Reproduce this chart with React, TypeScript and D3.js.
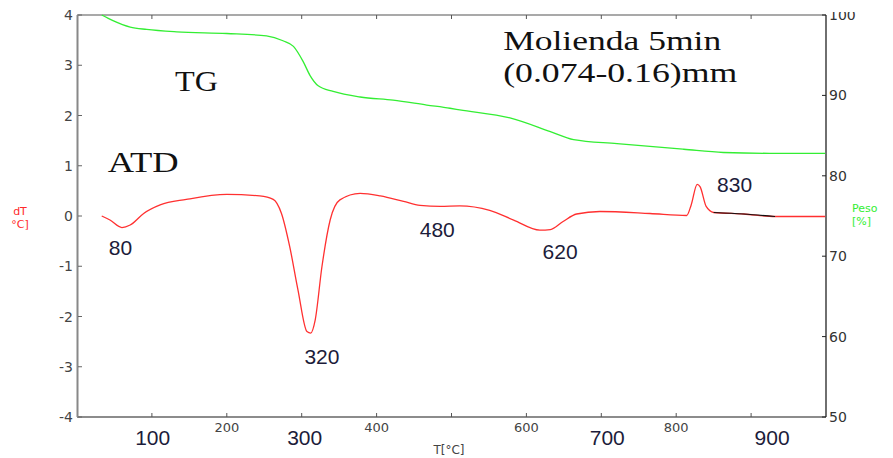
import React, { useEffect, useRef } from 'react';
import * as d3 from 'd3';

// TG curve (weight %, right axis)
const tgTemp = [33, 48, 71, 93, 133, 200, 253, 275, 289, 302, 311, 322, 342, 378, 422, 467, 498, 511, 578, 632, 663, 721, 810, 863, 925, 999];
const tgPeso = [100, 99.3, 98.5, 98.2, 97.9, 97.7, 97.4, 96.8, 96.1, 94.2, 92.5, 91.2, 90.5, 89.8, 89.4, 88.8, 88.4, 88.2, 87.2, 85.5, 84.5, 84.0, 83.3, 82.9, 82.8, 82.8];

// ATD curve (dT, left axis)
const atdTemp = [33, 44, 60, 71, 89, 111, 146, 200, 244, 262, 273, 284, 295, 307, 312, 318, 327, 338, 351, 378, 405, 436, 458, 485, 511, 551, 583, 618, 632, 649, 667, 698, 765, 814, 820, 828, 832, 840, 850, 890, 932, 999];
const atdDt = [0.0, -0.08, -0.23, -0.18, 0.05, 0.22, 0.33, 0.43, 0.40, 0.33, 0.05, -0.61, -1.47, -2.30, -2.33, -2.07, -1.01, -0.08, 0.32, 0.45, 0.40, 0.29, 0.21, 0.19, 0.20, 0.11, -0.08, -0.28, -0.27, -0.11, 0.04, 0.09, 0.05, 0.01, 0.22, 0.63, 0.58, 0.19, 0.07, 0.04, -0.01, -0.01];
const blackRange = [850, 932];

// axes
const xTicks = [100, 200, 300, 400, 500, 600, 700, 800, 900];
const xSmallLabels = [200, 400, 600, 800];
const bigLabels = ['100', '300', '700', '900'];
const bigLabelT = [101, 304, 708, 928];
const leftTicks = [-4, -3, -2, -1, 0, 1, 2, 3, 4];
const rightTicks = [50, 60, 70, 80, 90, 100];

// peak annotations
const peakLabels = ['80', '320', '480', '620', '830'];
const peakT = [58, 327, 481, 645, 878];
const peakDt = [-0.78, -2.95, -0.42, -0.86, 0.48];

const App = () => {
  const svgRef = useRef<SVGSVGElement>(null);

  useEffect(() => {
    const W = 893, H = 458;
    const svg = d3.select(svgRef.current);
    svg.selectAll('*').remove();

    const x = d3.scaleLinear().domain([0, 1000]).range([77, 826]);
    const yL = d3.scaleLinear().domain([-4, 4]).range([417, 15]);
    const yR = d3.scaleLinear().domain([50, 100]).range([417, 15]);

    svg.append('rect').attr('width', W).attr('height', H).attr('fill', '#fff');

    svg.append('defs').append('clipPath').attr('id', 'topclip')
      .append('rect').attr('x', 0).attr('y', 12).attr('width', W).attr('height', H);

    const numFont = 'DejaVu Sans, sans-serif';

    // frame
    svg.append('line').attr('x1', 77).attr('x2', 826).attr('y1', 15).attr('y2', 15)
      .attr('stroke', '#555').attr('stroke-width', 1.2);
    svg.append('line').attr('x1', 77).attr('x2', 826).attr('y1', 417).attr('y2', 417)
      .attr('stroke', '#666').attr('stroke-width', 1.6);
    svg.append('line').attr('x1', 77.5).attr('x2', 77.5).attr('y1', 15).attr('y2', 417)
      .attr('stroke', '#888').attr('stroke-width', 2);
    svg.append('line').attr('x1', 826).attr('x2', 826).attr('y1', 15).attr('y2', 417)
      .attr('stroke', '#222').attr('stroke-width', 1.3);

    // x ticks (top and bottom)
    xTicks.forEach(t => {
      svg.append('line').attr('x1', x(t)).attr('x2', x(t)).attr('y1', 417).attr('y2', 413)
        .attr('stroke', '#555');
      svg.append('line').attr('x1', x(t)).attr('x2', x(t)).attr('y1', 15).attr('y2', 19)
        .attr('stroke', '#555');
    });
    xSmallLabels.forEach(t => {
      svg.append('text').attr('x', x(t)).attr('y', 432).attr('text-anchor', 'middle')
        .attr('font-family', numFont).attr('font-size', 13).attr('fill', '#444')
        .text(String(t));
    });
    bigLabels.forEach((s, i) => {
      svg.append('text').attr('x', x(bigLabelT[i])).attr('y', 445).attr('text-anchor', 'middle')
        .attr('font-family', 'Liberation Sans, Arial, sans-serif').attr('font-size', 21)
        .attr('fill', '#1c1c3a').text(s);
    });
    svg.append('text').attr('x', 449).attr('y', 454).attr('text-anchor', 'middle')
      .attr('font-family', numFont).attr('font-size', 12).attr('fill', '#444').text('T[°C]');

    // left axis
    leftTicks.forEach(t => {
      svg.append('line').attr('x1', 78).attr('x2', 82).attr('y1', yL(t)).attr('y2', yL(t))
        .attr('stroke', '#666');
      svg.append('text').attr('x', 73).attr('y', yL(t)).attr('dy', '0.36em').attr('text-anchor', 'end')
        .attr('font-family', numFont).attr('font-size', 14).attr('fill', '#444').text(String(t));
    });
    svg.append('text').attr('x', 20).attr('y', 215).attr('text-anchor', 'middle')
      .attr('font-family', numFont).attr('font-size', 11).attr('fill', '#ff2a2a').text('dT');
    svg.append('text').attr('x', 20).attr('y', 228).attr('text-anchor', 'middle')
      .attr('font-family', numFont).attr('font-size', 11).attr('fill', '#ff2a2a').text('°C]');

    // right axis
    const rg = svg.append('g').attr('clip-path', 'url(#topclip)');
    rightTicks.forEach(t => {
      rg.append('line').attr('x1', 822).attr('x2', 826).attr('y1', yR(t)).attr('y2', yR(t))
        .attr('stroke', '#222');
      rg.append('text').attr('x', 829).attr('y', yR(t)).attr('dy', '0.36em')
        .attr('font-family', numFont).attr('font-size', 14).attr('fill', '#333').text(String(t));
    });
    svg.append('text').attr('x', 852).attr('y', 212)
      .attr('font-family', numFont).attr('font-size', 11).attr('fill', '#33ee33').text('Peso');
    svg.append('text').attr('x', 852).attr('y', 225)
      .attr('font-family', numFont).attr('font-size', 11).attr('fill', '#33ee33').text('[%]');

    // curves
    const tgLine = d3.line<number>()
      .x((_, i) => x(tgTemp[i])).y(d => yR(d)).curve(d3.curveMonotoneX);
    svg.append('path').attr('d', tgLine(tgPeso)).attr('fill', 'none')
      .attr('stroke', '#33ee33').attr('stroke-width', 1.3);

    const atdPts = atdTemp.map((t, i) => [t, atdDt[i]] as [number, number]);
    const atdLine = d3.line<[number, number]>()
      .x(d => x(d[0])).y(d => yL(d[1])).curve(d3.curveMonotoneX);
    svg.append('path').attr('d', atdLine(atdPts)).attr('fill', 'none')
      .attr('stroke', '#ff3030').attr('stroke-width', 1.3);
    const blackPts = atdPts.filter(d => d[0] >= blackRange[0] && d[0] <= blackRange[1]);
    svg.append('path').attr('d', atdLine(blackPts)).attr('fill', 'none')
      .attr('stroke', '#111').attr('stroke-width', 1.2);

    // peak labels
    peakLabels.forEach((s, i) => {
      svg.append('text').attr('x', x(peakT[i])).attr('y', yL(peakDt[i])).attr('text-anchor', 'middle')
        .attr('font-family', 'Liberation Sans, Arial, sans-serif').attr('font-size', 21)
        .attr('fill', '#1c1c3a').text(s);
    });

    // serif annotations
    const serif = 'Liberation Serif, Times New Roman, serif';
    svg.append('text').attr('x', x(131)).attr('y', yL(2.49)).attr('font-family', serif)
      .attr('font-size', 30).attr('fill', '#111').attr('textLength', 43)
      .attr('lengthAdjust', 'spacingAndGlyphs').text('TG');
    svg.append('text').attr('x', x(41)).attr('y', yL(0.88)).attr('font-family', serif)
      .attr('font-size', 30).attr('fill', '#111').attr('textLength', 71)
      .attr('lengthAdjust', 'spacingAndGlyphs').text('ATD');
    svg.append('text').attr('x', x(569)).attr('y', yL(3.30)).attr('font-family', serif)
      .attr('font-size', 28).attr('fill', '#111').attr('textLength', 218)
      .attr('lengthAdjust', 'spacingAndGlyphs').text('Molienda 5min');
    svg.append('text').attr('x', x(569)).attr('y', yL(2.67)).attr('font-family', serif)
      .attr('font-size', 28).attr('fill', '#111').attr('textLength', 234)
      .attr('lengthAdjust', 'spacingAndGlyphs').text('(0.074-0.16)mm');
  }, []);

  return (
    <svg ref={svgRef} width={893} height={458}
      style={{ position: 'absolute', left: 0, top: 0, display: 'block' }} />
  );
};

export default App;
